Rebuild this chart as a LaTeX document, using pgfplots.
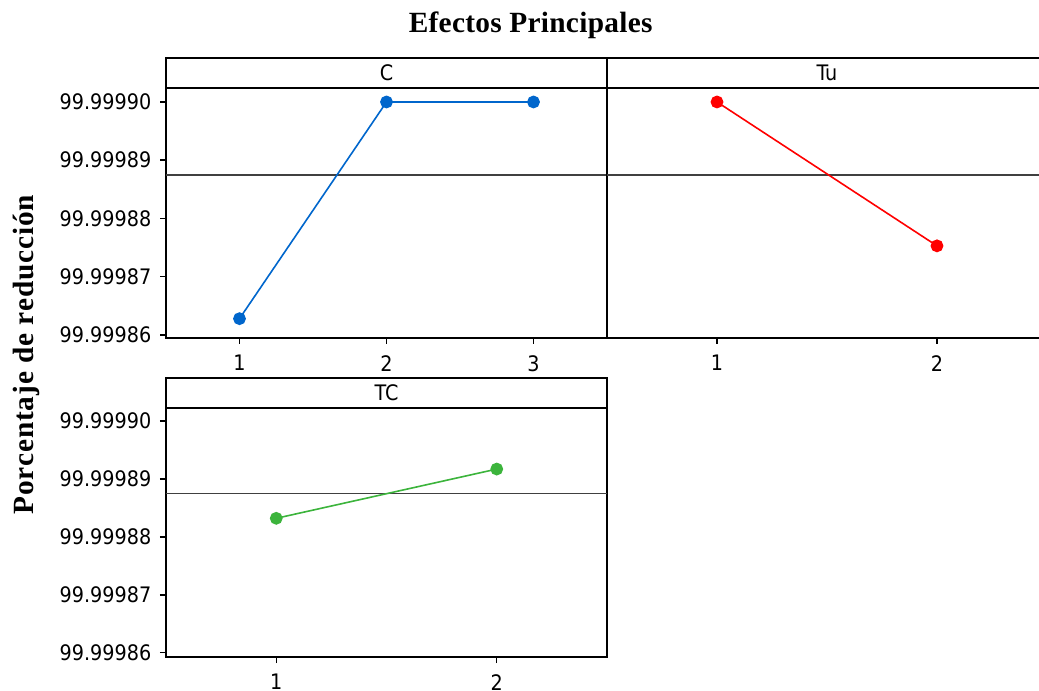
\documentclass[border=0pt]{standalone}
\usepackage{fontspec}
\setmainfont{Liberation Serif}
\newfontfamily\tickfont{DejaVu Sans Condensed}
\usepackage{pgfplots}
\pgfplotsset{compat=1.18}

\definecolor{colC}{HTML}{0066CC}
\definecolor{colTu}{HTML}{FF0000}
\definecolor{colTC}{HTML}{3CB43C}
\definecolor{colMean}{HTML}{404040}

% Valores en unidades de 1e-5 sobre 99.9998 (6 = 99.99986, 10 = 99.99990)
\def\meanval{8.75}

\tikzset{
  header/.style={line width=1.5pt, black},
  header label/.style={font=\tickfont\fontsize{16}{18}\selectfont},
}

\pgfplotsset{
  panel/.style={
    scale only axis,
    anchor=south west,
    clip=false,
    axis line style={line width=1.5pt, black},
    tick align=outside,
    xtick pos=left,
    ytick pos=left,
    major tick length=4.5pt,
    tick style={line width=1.1pt, black},
    tick label style={font=\tickfont\fontsize{16}{18}\selectfont},
    xticklabel style={yshift=-5pt},
    yticklabel style={xshift=-3pt},
    ytick={6,7,8,9,10},
    yticklabels={99.99986,99.99987,99.99988,99.99989,99.99990},
  },
  effect/.style={line width=1.2pt, mark=*, mark size=4.2pt, mark options={solid}},
  meanline/.style={colMean, line width=1.2pt, forget plot},
}

\begin{document}
\begin{tikzpicture}
\useasboundingbox (0,0) rectangle (779.25pt,-518.25pt);

% Titulo y etiqueta del eje y
\node[font=\bfseries\fontsize{22}{26}\selectfont] at (398pt,-19pt) {\addfontfeatures{LetterSpace=1}Efectos Principales};
\node[rotate=90, font=\bfseries\fontsize{22}{26}\selectfont] at (20pt,-266pt) {\addfontfeatures{LetterSpace=3}Porcentaje de reducción};

% === Panel C ===
\begin{axis}[panel, at={(124.5pt,-253.5pt)}, width=330.75pt, height=210pt,
  xmin=0.5, xmax=3.5, ymin=5.948, ymax=10.755,
  xtick={1,2,3}, xticklabels={1,2,3}]
\addplot[meanline] coordinates {(0.5,\meanval) (3.5,\meanval)};
\addplot[effect, colC] coordinates {(1,6.28) (2,10) (3,10)};
\draw[header] (axis cs:0.5,10.24) -- (axis cs:3.5,10.24);
\node[header label] at (axis cs:2,10.4975) {C};
\end{axis}

% === Panel Tu ===
\begin{axis}[panel, at={(455.25pt,-253.5pt)}, width=330pt, height=210pt,
  xmin=0.5, xmax=2.5, ymin=5.948, ymax=10.755,
  xtick={1,2}, xticklabels={1,2}, ytick=\empty]
\addplot[meanline] coordinates {(0.5,\meanval) (2.5,\meanval)};
\addplot[effect, colTu] coordinates {(1,10) (2,7.53)};
\draw[header] (axis cs:0.5,10.24) -- (axis cs:2.5,10.24);
\node[header label] at (axis cs:1.5,10.4975) {Tu};
\end{axis}

% === Panel TC ===
\begin{axis}[panel, at={(124.5pt,-492.75pt)}, width=330.75pt, height=209.25pt,
  xmin=0.5, xmax=2.5, ymin=5.926, ymax=10.742,
  xtick={1,2}, xticklabels={1,2}]
\addplot[meanline] coordinates {(0.5,\meanval) (2.5,\meanval)};
\addplot[effect, colTC] coordinates {(1,8.32) (2,9.17)};
\draw[header] (axis cs:0.5,10.224) -- (axis cs:2.5,10.224);
\node[header label] at (axis cs:1.5,10.483) {TC};
\end{axis}
\end{tikzpicture}
\end{document}
